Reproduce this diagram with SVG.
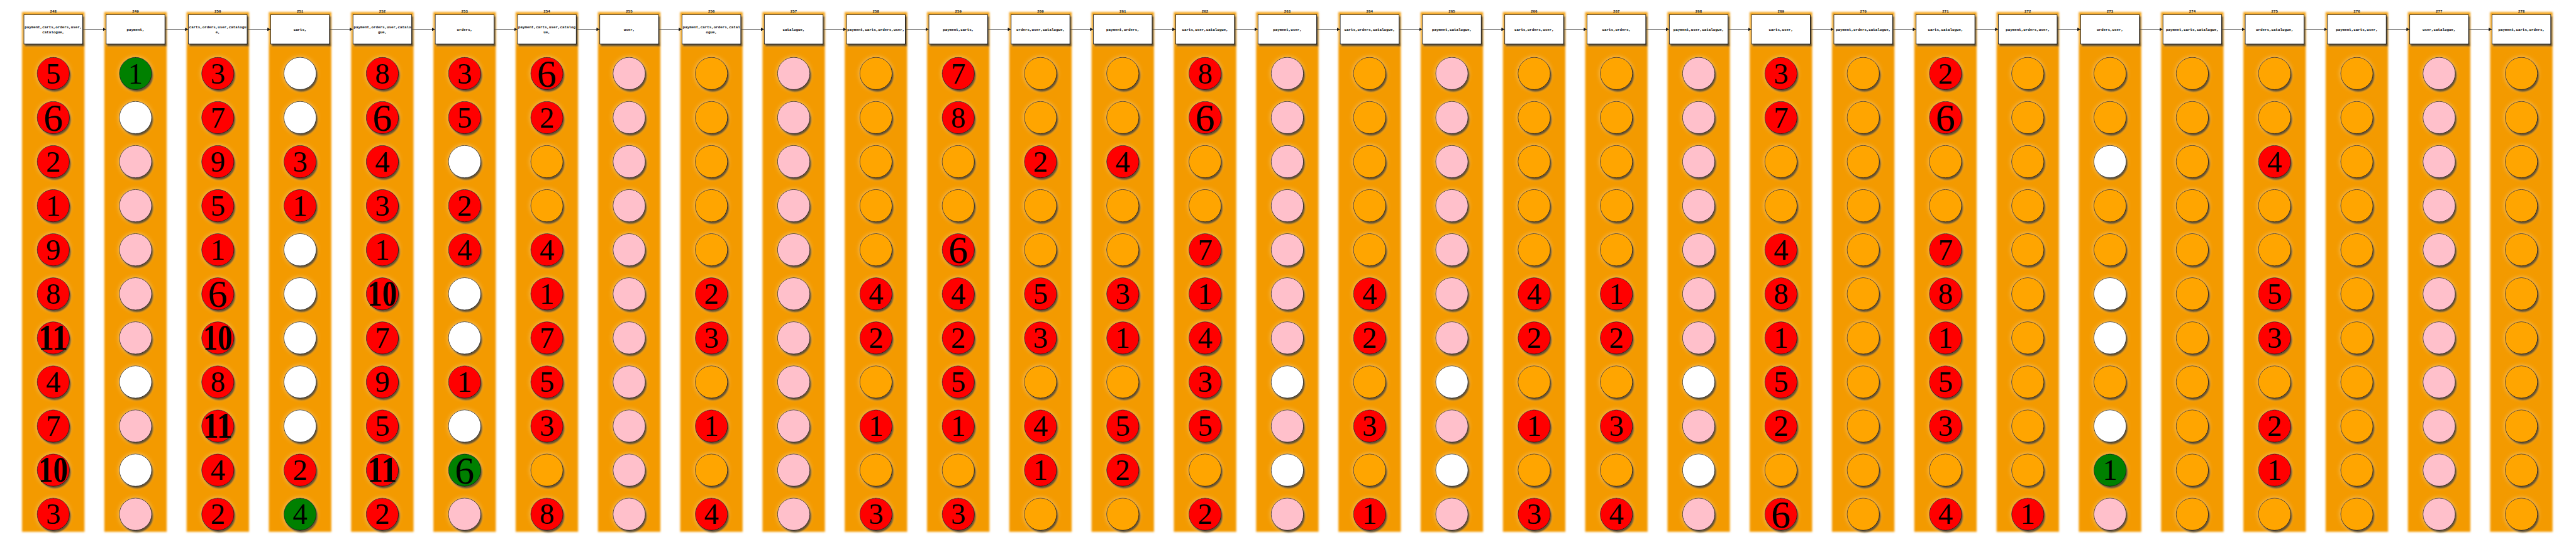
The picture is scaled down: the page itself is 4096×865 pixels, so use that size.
<svg xmlns="http://www.w3.org/2000/svg" xmlns:xlink="http://www.w3.org/1999/xlink" width="4096" height="865" viewBox="0 0 4096 865">
<style>
.band{fill:#f39a06;filter:url(#soft)}
.box{fill:#fff;stroke:#000;stroke-width:1.5;filter:url(#sh)}
circle{stroke:#000;stroke-width:1.2;filter:url(#sh)}
.R{fill:#ff0000}.G{fill:#008000}.W{fill:#ffffff}.P{fill:#ffc0cb}.O{fill:#ffa500}
.d{font-family:"Liberation Serif","Times New Roman",serif;font-size:80px;text-anchor:middle;fill:#000}
.s6{font-size:106px}
.dd{font-size:96px;font-weight:bold}
.lbl{font-family:"Liberation Mono","DejaVu Sans Mono",monospace;font-weight:bold;font-size:10px;text-anchor:middle;fill:#000}
#connectors path{stroke:#000;stroke-width:1.3;fill:none}
#connectors .arr{marker-end:url(#ah)}
</style>
<defs>
<filter id="soft" x="-10%" y="-2%" width="120%" height="104%"><feGaussianBlur stdDeviation="2.5"/></filter>
<filter id="sh" x="-40%" y="-40%" width="180%" height="180%">
<feGaussianBlur in="SourceAlpha" stdDeviation="6" result="b1"/>
<feFlood flood-color="#fff" flood-opacity="0.45"/><feComposite in2="b1" operator="in" result="glow"/>
<feGaussianBlur in="SourceAlpha" stdDeviation="2" result="b2"/>
<feOffset in="b2" dx="4" dy="5" result="o"/>
<feFlood flood-color="#000" flood-opacity="0.75"/><feComposite in2="o" operator="in" result="shadow"/>
<feMerge><feMergeNode in="glow"/><feMergeNode in="shadow"/><feMergeNode in="SourceGraphic"/></feMerge>
</filter>
<marker id="ah" markerUnits="userSpaceOnUse" markerWidth="9" markerHeight="9" viewBox="0 0 10 10" refX="10" refY="5" orient="auto"><path d="M0,0L10,5L0,10z" fill="#000"/></marker>
<path id="vl" d="M0 120V156M0 244V276M0 364V396M0 484V516M0 604V636M0 724V756M0 844V876M0 964V996M0 1084V1116M0 1204V1236M0 1324V1356"/>
<rect id="bd" class="band" x="-85" y="33" width="170" height="1415"/>
</defs>
<g transform="scale(0.584)">
<g id="bands">
<use xlink:href="#bd" x="145"/><use xlink:href="#bd" x="369"/><use xlink:href="#bd" x="593"/><use xlink:href="#bd" x="817"/><use xlink:href="#bd" x="1041"/><use xlink:href="#bd" x="1265"/><use xlink:href="#bd" x="1489"/><use xlink:href="#bd" x="1713"/><use xlink:href="#bd" x="1937"/><use xlink:href="#bd" x="2161"/><use xlink:href="#bd" x="2385"/><use xlink:href="#bd" x="2609"/><use xlink:href="#bd" x="2833"/><use xlink:href="#bd" x="3057"/><use xlink:href="#bd" x="3281"/><use xlink:href="#bd" x="3505"/><use xlink:href="#bd" x="3729"/><use xlink:href="#bd" x="3953"/><use xlink:href="#bd" x="4177"/><use xlink:href="#bd" x="4401"/><use xlink:href="#bd" x="4625"/><use xlink:href="#bd" x="4849"/><use xlink:href="#bd" x="5073"/><use xlink:href="#bd" x="5297"/><use xlink:href="#bd" x="5521"/><use xlink:href="#bd" x="5745"/><use xlink:href="#bd" x="5969"/><use xlink:href="#bd" x="6193"/><use xlink:href="#bd" x="6417"/><use xlink:href="#bd" x="6641"/><use xlink:href="#bd" x="6865"/>
</g>
<g id="connectors">
<use xlink:href="#vl" x="145"/><use xlink:href="#vl" x="369"/><use xlink:href="#vl" x="593"/><use xlink:href="#vl" x="817"/><use xlink:href="#vl" x="1041"/><use xlink:href="#vl" x="1265"/><use xlink:href="#vl" x="1489"/><use xlink:href="#vl" x="1713"/><use xlink:href="#vl" x="1937"/><use xlink:href="#vl" x="2161"/><use xlink:href="#vl" x="2385"/><use xlink:href="#vl" x="2609"/><use xlink:href="#vl" x="2833"/><use xlink:href="#vl" x="3057"/><use xlink:href="#vl" x="3281"/><use xlink:href="#vl" x="3505"/><use xlink:href="#vl" x="3729"/><use xlink:href="#vl" x="3953"/><use xlink:href="#vl" x="4177"/><use xlink:href="#vl" x="4401"/><use xlink:href="#vl" x="4625"/><use xlink:href="#vl" x="4849"/><use xlink:href="#vl" x="5073"/><use xlink:href="#vl" x="5297"/><use xlink:href="#vl" x="5521"/><use xlink:href="#vl" x="5745"/><use xlink:href="#vl" x="5969"/><use xlink:href="#vl" x="6193"/><use xlink:href="#vl" x="6417"/><use xlink:href="#vl" x="6641"/><use xlink:href="#vl" x="6865"/>
<path class="arr" d="M225 80H289"/><path class="arr" d="M449 80H513"/><path class="arr" d="M673 80H737"/><path class="arr" d="M897 80H961"/><path class="arr" d="M1121 80H1185"/><path class="arr" d="M1345 80H1409"/><path class="arr" d="M1569 80H1633"/><path class="arr" d="M1793 80H1857"/><path class="arr" d="M2017 80H2081"/><path class="arr" d="M2241 80H2305"/><path class="arr" d="M2465 80H2529"/><path class="arr" d="M2689 80H2753"/><path class="arr" d="M2913 80H2977"/><path class="arr" d="M3137 80H3201"/><path class="arr" d="M3361 80H3425"/><path class="arr" d="M3585 80H3649"/><path class="arr" d="M3809 80H3873"/><path class="arr" d="M4033 80H4097"/><path class="arr" d="M4257 80H4321"/><path class="arr" d="M4481 80H4545"/><path class="arr" d="M4705 80H4769"/><path class="arr" d="M4929 80H4993"/><path class="arr" d="M5153 80H5217"/><path class="arr" d="M5377 80H5441"/><path class="arr" d="M5601 80H5665"/><path class="arr" d="M5825 80H5889"/><path class="arr" d="M6049 80H6113"/><path class="arr" d="M6273 80H6337"/><path class="arr" d="M6497 80H6561"/><path class="arr" d="M6721 80H6785"/>
</g>

<g id="col248" transform="translate(145 0)">
<g id="n248"><text class="lbl" y="34">248</text><rect class="box" x="-80" y="40" width="160" height="80"/><text class="lbl" y="77">payment,carts,orders,user,</text><text class="lbl" y="90">catalogue,</text></g>
<g id="n248-1"><circle class="R" cy="200" r="44"/><text class="d" y="227">5</text></g>
<g id="n248-2"><circle class="R" cy="320" r="44"/><text class="d s6" y="356">6</text></g>
<g id="n248-3"><circle class="R" cy="440" r="44"/><text class="d" y="467">2</text></g>
<g id="n248-4"><circle class="R" cy="560" r="44"/><text class="d" y="587">1</text></g>
<g id="n248-5"><circle class="R" cy="680" r="44"/><text class="d" y="707">9</text></g>
<g id="n248-6"><circle class="R" cy="800" r="44"/><text class="d" y="827">8</text></g>
<g id="n248-7"><circle class="R" cy="920" r="44"/><text class="d dd" y="952" textLength="80" lengthAdjust="spacingAndGlyphs">11</text></g>
<g id="n248-8"><circle class="R" cy="1040" r="44"/><text class="d" y="1067">4</text></g>
<g id="n248-9"><circle class="R" cy="1160" r="44"/><text class="d" y="1187">7</text></g>
<g id="n248-10"><circle class="R" cy="1280" r="44"/><text class="d dd" y="1312" textLength="80" lengthAdjust="spacingAndGlyphs">10</text></g>
<g id="n248-11"><circle class="R" cy="1400" r="44"/><text class="d" y="1427">3</text></g>
</g>

<g id="col249" transform="translate(369 0)">
<g id="n249"><text class="lbl" y="34">249</text><rect class="box" x="-80" y="40" width="160" height="80"/><text class="lbl" y="84">payment,</text></g>
<g id="n249-1"><circle class="G" cy="200" r="44"/><text class="d" y="227">1</text></g>
<g id="n249-2"><circle class="W" cy="320" r="44"/></g>
<g id="n249-3"><circle class="P" cy="440" r="44"/></g>
<g id="n249-4"><circle class="P" cy="560" r="44"/></g>
<g id="n249-5"><circle class="P" cy="680" r="44"/></g>
<g id="n249-6"><circle class="P" cy="800" r="44"/></g>
<g id="n249-7"><circle class="P" cy="920" r="44"/></g>
<g id="n249-8"><circle class="W" cy="1040" r="44"/></g>
<g id="n249-9"><circle class="P" cy="1160" r="44"/></g>
<g id="n249-10"><circle class="W" cy="1280" r="44"/></g>
<g id="n249-11"><circle class="P" cy="1400" r="44"/></g>
</g>

<g id="col250" transform="translate(593 0)">
<g id="n250"><text class="lbl" y="34">250</text><rect class="box" x="-80" y="40" width="160" height="80"/><text class="lbl" y="77">carts,orders,user,catalogu</text><text class="lbl" y="90">e,</text></g>
<g id="n250-1"><circle class="R" cy="200" r="44"/><text class="d" y="227">3</text></g>
<g id="n250-2"><circle class="R" cy="320" r="44"/><text class="d" y="347">7</text></g>
<g id="n250-3"><circle class="R" cy="440" r="44"/><text class="d" y="467">9</text></g>
<g id="n250-4"><circle class="R" cy="560" r="44"/><text class="d" y="587">5</text></g>
<g id="n250-5"><circle class="R" cy="680" r="44"/><text class="d" y="707">1</text></g>
<g id="n250-6"><circle class="R" cy="800" r="44"/><text class="d s6" y="836">6</text></g>
<g id="n250-7"><circle class="R" cy="920" r="44"/><text class="d dd" y="952" textLength="80" lengthAdjust="spacingAndGlyphs">10</text></g>
<g id="n250-8"><circle class="R" cy="1040" r="44"/><text class="d" y="1067">8</text></g>
<g id="n250-9"><circle class="R" cy="1160" r="44"/><text class="d dd" y="1192" textLength="80" lengthAdjust="spacingAndGlyphs">11</text></g>
<g id="n250-10"><circle class="R" cy="1280" r="44"/><text class="d" y="1307">4</text></g>
<g id="n250-11"><circle class="R" cy="1400" r="44"/><text class="d" y="1427">2</text></g>
</g>

<g id="col251" transform="translate(817 0)">
<g id="n251"><text class="lbl" y="34">251</text><rect class="box" x="-80" y="40" width="160" height="80"/><text class="lbl" y="84">carts,</text></g>
<g id="n251-1"><circle class="W" cy="200" r="44"/></g>
<g id="n251-2"><circle class="W" cy="320" r="44"/></g>
<g id="n251-3"><circle class="R" cy="440" r="44"/><text class="d" y="467">3</text></g>
<g id="n251-4"><circle class="R" cy="560" r="44"/><text class="d" y="587">1</text></g>
<g id="n251-5"><circle class="W" cy="680" r="44"/></g>
<g id="n251-6"><circle class="W" cy="800" r="44"/></g>
<g id="n251-7"><circle class="W" cy="920" r="44"/></g>
<g id="n251-8"><circle class="W" cy="1040" r="44"/></g>
<g id="n251-9"><circle class="W" cy="1160" r="44"/></g>
<g id="n251-10"><circle class="R" cy="1280" r="44"/><text class="d" y="1307">2</text></g>
<g id="n251-11"><circle class="G" cy="1400" r="44"/><text class="d" y="1427">4</text></g>
</g>

<g id="col252" transform="translate(1041 0)">
<g id="n252"><text class="lbl" y="34">252</text><rect class="box" x="-80" y="40" width="160" height="80"/><text class="lbl" y="77">payment,orders,user,catalo</text><text class="lbl" y="90">gue,</text></g>
<g id="n252-1"><circle class="R" cy="200" r="44"/><text class="d" y="227">8</text></g>
<g id="n252-2"><circle class="R" cy="320" r="44"/><text class="d s6" y="356">6</text></g>
<g id="n252-3"><circle class="R" cy="440" r="44"/><text class="d" y="467">4</text></g>
<g id="n252-4"><circle class="R" cy="560" r="44"/><text class="d" y="587">3</text></g>
<g id="n252-5"><circle class="R" cy="680" r="44"/><text class="d" y="707">1</text></g>
<g id="n252-6"><circle class="R" cy="800" r="44"/><text class="d dd" y="832" textLength="80" lengthAdjust="spacingAndGlyphs">10</text></g>
<g id="n252-7"><circle class="R" cy="920" r="44"/><text class="d" y="947">7</text></g>
<g id="n252-8"><circle class="R" cy="1040" r="44"/><text class="d" y="1067">9</text></g>
<g id="n252-9"><circle class="R" cy="1160" r="44"/><text class="d" y="1187">5</text></g>
<g id="n252-10"><circle class="R" cy="1280" r="44"/><text class="d dd" y="1312" textLength="80" lengthAdjust="spacingAndGlyphs">11</text></g>
<g id="n252-11"><circle class="R" cy="1400" r="44"/><text class="d" y="1427">2</text></g>
</g>

<g id="col253" transform="translate(1265 0)">
<g id="n253"><text class="lbl" y="34">253</text><rect class="box" x="-80" y="40" width="160" height="80"/><text class="lbl" y="84">orders,</text></g>
<g id="n253-1"><circle class="R" cy="200" r="44"/><text class="d" y="227">3</text></g>
<g id="n253-2"><circle class="R" cy="320" r="44"/><text class="d" y="347">5</text></g>
<g id="n253-3"><circle class="W" cy="440" r="44"/></g>
<g id="n253-4"><circle class="R" cy="560" r="44"/><text class="d" y="587">2</text></g>
<g id="n253-5"><circle class="R" cy="680" r="44"/><text class="d" y="707">4</text></g>
<g id="n253-6"><circle class="W" cy="800" r="44"/></g>
<g id="n253-7"><circle class="W" cy="920" r="44"/></g>
<g id="n253-8"><circle class="R" cy="1040" r="44"/><text class="d" y="1067">1</text></g>
<g id="n253-9"><circle class="W" cy="1160" r="44"/></g>
<g id="n253-10"><circle class="G" cy="1280" r="44"/><text class="d s6" y="1316">6</text></g>
<g id="n253-11"><circle class="P" cy="1400" r="44"/></g>
</g>

<g id="col254" transform="translate(1489 0)">
<g id="n254"><text class="lbl" y="34">254</text><rect class="box" x="-80" y="40" width="160" height="80"/><text class="lbl" y="77">payment,carts,user,catalog</text><text class="lbl" y="90">ue,</text></g>
<g id="n254-1"><circle class="R" cy="200" r="44"/><text class="d s6" y="236">6</text></g>
<g id="n254-2"><circle class="R" cy="320" r="44"/><text class="d" y="347">2</text></g>
<g id="n254-3"><circle class="O" cy="440" r="44"/></g>
<g id="n254-4"><circle class="O" cy="560" r="44"/></g>
<g id="n254-5"><circle class="R" cy="680" r="44"/><text class="d" y="707">4</text></g>
<g id="n254-6"><circle class="R" cy="800" r="44"/><text class="d" y="827">1</text></g>
<g id="n254-7"><circle class="R" cy="920" r="44"/><text class="d" y="947">7</text></g>
<g id="n254-8"><circle class="R" cy="1040" r="44"/><text class="d" y="1067">5</text></g>
<g id="n254-9"><circle class="R" cy="1160" r="44"/><text class="d" y="1187">3</text></g>
<g id="n254-10"><circle class="O" cy="1280" r="44"/></g>
<g id="n254-11"><circle class="R" cy="1400" r="44"/><text class="d" y="1427">8</text></g>
</g>

<g id="col255" transform="translate(1713 0)">
<g id="n255"><text class="lbl" y="34">255</text><rect class="box" x="-80" y="40" width="160" height="80"/><text class="lbl" y="84">user,</text></g>
<g id="n255-1"><circle class="P" cy="200" r="44"/></g>
<g id="n255-2"><circle class="P" cy="320" r="44"/></g>
<g id="n255-3"><circle class="P" cy="440" r="44"/></g>
<g id="n255-4"><circle class="P" cy="560" r="44"/></g>
<g id="n255-5"><circle class="P" cy="680" r="44"/></g>
<g id="n255-6"><circle class="P" cy="800" r="44"/></g>
<g id="n255-7"><circle class="P" cy="920" r="44"/></g>
<g id="n255-8"><circle class="P" cy="1040" r="44"/></g>
<g id="n255-9"><circle class="P" cy="1160" r="44"/></g>
<g id="n255-10"><circle class="P" cy="1280" r="44"/></g>
<g id="n255-11"><circle class="P" cy="1400" r="44"/></g>
</g>

<g id="col256" transform="translate(1937 0)">
<g id="n256"><text class="lbl" y="34">256</text><rect class="box" x="-80" y="40" width="160" height="80"/><text class="lbl" y="77">payment,carts,orders,catal</text><text class="lbl" y="90">ogue,</text></g>
<g id="n256-1"><circle class="O" cy="200" r="44"/></g>
<g id="n256-2"><circle class="O" cy="320" r="44"/></g>
<g id="n256-3"><circle class="O" cy="440" r="44"/></g>
<g id="n256-4"><circle class="O" cy="560" r="44"/></g>
<g id="n256-5"><circle class="O" cy="680" r="44"/></g>
<g id="n256-6"><circle class="R" cy="800" r="44"/><text class="d" y="827">2</text></g>
<g id="n256-7"><circle class="R" cy="920" r="44"/><text class="d" y="947">3</text></g>
<g id="n256-8"><circle class="O" cy="1040" r="44"/></g>
<g id="n256-9"><circle class="R" cy="1160" r="44"/><text class="d" y="1187">1</text></g>
<g id="n256-10"><circle class="O" cy="1280" r="44"/></g>
<g id="n256-11"><circle class="R" cy="1400" r="44"/><text class="d" y="1427">4</text></g>
</g>

<g id="col257" transform="translate(2161 0)">
<g id="n257"><text class="lbl" y="34">257</text><rect class="box" x="-80" y="40" width="160" height="80"/><text class="lbl" y="84">catalogue,</text></g>
<g id="n257-1"><circle class="P" cy="200" r="44"/></g>
<g id="n257-2"><circle class="P" cy="320" r="44"/></g>
<g id="n257-3"><circle class="P" cy="440" r="44"/></g>
<g id="n257-4"><circle class="P" cy="560" r="44"/></g>
<g id="n257-5"><circle class="P" cy="680" r="44"/></g>
<g id="n257-6"><circle class="P" cy="800" r="44"/></g>
<g id="n257-7"><circle class="P" cy="920" r="44"/></g>
<g id="n257-8"><circle class="P" cy="1040" r="44"/></g>
<g id="n257-9"><circle class="P" cy="1160" r="44"/></g>
<g id="n257-10"><circle class="P" cy="1280" r="44"/></g>
<g id="n257-11"><circle class="P" cy="1400" r="44"/></g>
</g>

<g id="col258" transform="translate(2385 0)">
<g id="n258"><text class="lbl" y="34">258</text><rect class="box" x="-80" y="40" width="160" height="80"/><text class="lbl" y="84">payment,carts,orders,user,</text></g>
<g id="n258-1"><circle class="O" cy="200" r="44"/></g>
<g id="n258-2"><circle class="O" cy="320" r="44"/></g>
<g id="n258-3"><circle class="O" cy="440" r="44"/></g>
<g id="n258-4"><circle class="O" cy="560" r="44"/></g>
<g id="n258-5"><circle class="O" cy="680" r="44"/></g>
<g id="n258-6"><circle class="R" cy="800" r="44"/><text class="d" y="827">4</text></g>
<g id="n258-7"><circle class="R" cy="920" r="44"/><text class="d" y="947">2</text></g>
<g id="n258-8"><circle class="O" cy="1040" r="44"/></g>
<g id="n258-9"><circle class="R" cy="1160" r="44"/><text class="d" y="1187">1</text></g>
<g id="n258-10"><circle class="O" cy="1280" r="44"/></g>
<g id="n258-11"><circle class="R" cy="1400" r="44"/><text class="d" y="1427">3</text></g>
</g>

<g id="col259" transform="translate(2609 0)">
<g id="n259"><text class="lbl" y="34">259</text><rect class="box" x="-80" y="40" width="160" height="80"/><text class="lbl" y="84">payment,carts,</text></g>
<g id="n259-1"><circle class="R" cy="200" r="44"/><text class="d" y="227">7</text></g>
<g id="n259-2"><circle class="R" cy="320" r="44"/><text class="d" y="347">8</text></g>
<g id="n259-3"><circle class="O" cy="440" r="44"/></g>
<g id="n259-4"><circle class="O" cy="560" r="44"/></g>
<g id="n259-5"><circle class="R" cy="680" r="44"/><text class="d s6" y="716">6</text></g>
<g id="n259-6"><circle class="R" cy="800" r="44"/><text class="d" y="827">4</text></g>
<g id="n259-7"><circle class="R" cy="920" r="44"/><text class="d" y="947">2</text></g>
<g id="n259-8"><circle class="R" cy="1040" r="44"/><text class="d" y="1067">5</text></g>
<g id="n259-9"><circle class="R" cy="1160" r="44"/><text class="d" y="1187">1</text></g>
<g id="n259-10"><circle class="O" cy="1280" r="44"/></g>
<g id="n259-11"><circle class="R" cy="1400" r="44"/><text class="d" y="1427">3</text></g>
</g>

<g id="col260" transform="translate(2833 0)">
<g id="n260"><text class="lbl" y="34">260</text><rect class="box" x="-80" y="40" width="160" height="80"/><text class="lbl" y="84">orders,user,catalogue,</text></g>
<g id="n260-1"><circle class="O" cy="200" r="44"/></g>
<g id="n260-2"><circle class="O" cy="320" r="44"/></g>
<g id="n260-3"><circle class="R" cy="440" r="44"/><text class="d" y="467">2</text></g>
<g id="n260-4"><circle class="O" cy="560" r="44"/></g>
<g id="n260-5"><circle class="O" cy="680" r="44"/></g>
<g id="n260-6"><circle class="R" cy="800" r="44"/><text class="d" y="827">5</text></g>
<g id="n260-7"><circle class="R" cy="920" r="44"/><text class="d" y="947">3</text></g>
<g id="n260-8"><circle class="O" cy="1040" r="44"/></g>
<g id="n260-9"><circle class="R" cy="1160" r="44"/><text class="d" y="1187">4</text></g>
<g id="n260-10"><circle class="R" cy="1280" r="44"/><text class="d" y="1307">1</text></g>
<g id="n260-11"><circle class="O" cy="1400" r="44"/></g>
</g>

<g id="col261" transform="translate(3057 0)">
<g id="n261"><text class="lbl" y="34">261</text><rect class="box" x="-80" y="40" width="160" height="80"/><text class="lbl" y="84">payment,orders,</text></g>
<g id="n261-1"><circle class="O" cy="200" r="44"/></g>
<g id="n261-2"><circle class="O" cy="320" r="44"/></g>
<g id="n261-3"><circle class="R" cy="440" r="44"/><text class="d" y="467">4</text></g>
<g id="n261-4"><circle class="O" cy="560" r="44"/></g>
<g id="n261-5"><circle class="O" cy="680" r="44"/></g>
<g id="n261-6"><circle class="R" cy="800" r="44"/><text class="d" y="827">3</text></g>
<g id="n261-7"><circle class="R" cy="920" r="44"/><text class="d" y="947">1</text></g>
<g id="n261-8"><circle class="O" cy="1040" r="44"/></g>
<g id="n261-9"><circle class="R" cy="1160" r="44"/><text class="d" y="1187">5</text></g>
<g id="n261-10"><circle class="R" cy="1280" r="44"/><text class="d" y="1307">2</text></g>
<g id="n261-11"><circle class="O" cy="1400" r="44"/></g>
</g>

<g id="col262" transform="translate(3281 0)">
<g id="n262"><text class="lbl" y="34">262</text><rect class="box" x="-80" y="40" width="160" height="80"/><text class="lbl" y="84">carts,user,catalogue,</text></g>
<g id="n262-1"><circle class="R" cy="200" r="44"/><text class="d" y="227">8</text></g>
<g id="n262-2"><circle class="R" cy="320" r="44"/><text class="d s6" y="356">6</text></g>
<g id="n262-3"><circle class="O" cy="440" r="44"/></g>
<g id="n262-4"><circle class="O" cy="560" r="44"/></g>
<g id="n262-5"><circle class="R" cy="680" r="44"/><text class="d" y="707">7</text></g>
<g id="n262-6"><circle class="R" cy="800" r="44"/><text class="d" y="827">1</text></g>
<g id="n262-7"><circle class="R" cy="920" r="44"/><text class="d" y="947">4</text></g>
<g id="n262-8"><circle class="R" cy="1040" r="44"/><text class="d" y="1067">3</text></g>
<g id="n262-9"><circle class="R" cy="1160" r="44"/><text class="d" y="1187">5</text></g>
<g id="n262-10"><circle class="O" cy="1280" r="44"/></g>
<g id="n262-11"><circle class="R" cy="1400" r="44"/><text class="d" y="1427">2</text></g>
</g>

<g id="col263" transform="translate(3505 0)">
<g id="n263"><text class="lbl" y="34">263</text><rect class="box" x="-80" y="40" width="160" height="80"/><text class="lbl" y="84">payment,user,</text></g>
<g id="n263-1"><circle class="P" cy="200" r="44"/></g>
<g id="n263-2"><circle class="P" cy="320" r="44"/></g>
<g id="n263-3"><circle class="P" cy="440" r="44"/></g>
<g id="n263-4"><circle class="P" cy="560" r="44"/></g>
<g id="n263-5"><circle class="P" cy="680" r="44"/></g>
<g id="n263-6"><circle class="P" cy="800" r="44"/></g>
<g id="n263-7"><circle class="P" cy="920" r="44"/></g>
<g id="n263-8"><circle class="W" cy="1040" r="44"/></g>
<g id="n263-9"><circle class="P" cy="1160" r="44"/></g>
<g id="n263-10"><circle class="W" cy="1280" r="44"/></g>
<g id="n263-11"><circle class="P" cy="1400" r="44"/></g>
</g>

<g id="col264" transform="translate(3729 0)">
<g id="n264"><text class="lbl" y="34">264</text><rect class="box" x="-80" y="40" width="160" height="80"/><text class="lbl" y="84">carts,orders,catalogue,</text></g>
<g id="n264-1"><circle class="O" cy="200" r="44"/></g>
<g id="n264-2"><circle class="O" cy="320" r="44"/></g>
<g id="n264-3"><circle class="O" cy="440" r="44"/></g>
<g id="n264-4"><circle class="O" cy="560" r="44"/></g>
<g id="n264-5"><circle class="O" cy="680" r="44"/></g>
<g id="n264-6"><circle class="R" cy="800" r="44"/><text class="d" y="827">4</text></g>
<g id="n264-7"><circle class="R" cy="920" r="44"/><text class="d" y="947">2</text></g>
<g id="n264-8"><circle class="O" cy="1040" r="44"/></g>
<g id="n264-9"><circle class="R" cy="1160" r="44"/><text class="d" y="1187">3</text></g>
<g id="n264-10"><circle class="O" cy="1280" r="44"/></g>
<g id="n264-11"><circle class="R" cy="1400" r="44"/><text class="d" y="1427">1</text></g>
</g>

<g id="col265" transform="translate(3953 0)">
<g id="n265"><text class="lbl" y="34">265</text><rect class="box" x="-80" y="40" width="160" height="80"/><text class="lbl" y="84">payment,catalogue,</text></g>
<g id="n265-1"><circle class="P" cy="200" r="44"/></g>
<g id="n265-2"><circle class="P" cy="320" r="44"/></g>
<g id="n265-3"><circle class="P" cy="440" r="44"/></g>
<g id="n265-4"><circle class="P" cy="560" r="44"/></g>
<g id="n265-5"><circle class="P" cy="680" r="44"/></g>
<g id="n265-6"><circle class="P" cy="800" r="44"/></g>
<g id="n265-7"><circle class="P" cy="920" r="44"/></g>
<g id="n265-8"><circle class="W" cy="1040" r="44"/></g>
<g id="n265-9"><circle class="P" cy="1160" r="44"/></g>
<g id="n265-10"><circle class="W" cy="1280" r="44"/></g>
<g id="n265-11"><circle class="P" cy="1400" r="44"/></g>
</g>

<g id="col266" transform="translate(4177 0)">
<g id="n266"><text class="lbl" y="34">266</text><rect class="box" x="-80" y="40" width="160" height="80"/><text class="lbl" y="84">carts,orders,user,</text></g>
<g id="n266-1"><circle class="O" cy="200" r="44"/></g>
<g id="n266-2"><circle class="O" cy="320" r="44"/></g>
<g id="n266-3"><circle class="O" cy="440" r="44"/></g>
<g id="n266-4"><circle class="O" cy="560" r="44"/></g>
<g id="n266-5"><circle class="O" cy="680" r="44"/></g>
<g id="n266-6"><circle class="R" cy="800" r="44"/><text class="d" y="827">4</text></g>
<g id="n266-7"><circle class="R" cy="920" r="44"/><text class="d" y="947">2</text></g>
<g id="n266-8"><circle class="O" cy="1040" r="44"/></g>
<g id="n266-9"><circle class="R" cy="1160" r="44"/><text class="d" y="1187">1</text></g>
<g id="n266-10"><circle class="O" cy="1280" r="44"/></g>
<g id="n266-11"><circle class="R" cy="1400" r="44"/><text class="d" y="1427">3</text></g>
</g>

<g id="col267" transform="translate(4401 0)">
<g id="n267"><text class="lbl" y="34">267</text><rect class="box" x="-80" y="40" width="160" height="80"/><text class="lbl" y="84">carts,orders,</text></g>
<g id="n267-1"><circle class="O" cy="200" r="44"/></g>
<g id="n267-2"><circle class="O" cy="320" r="44"/></g>
<g id="n267-3"><circle class="O" cy="440" r="44"/></g>
<g id="n267-4"><circle class="O" cy="560" r="44"/></g>
<g id="n267-5"><circle class="O" cy="680" r="44"/></g>
<g id="n267-6"><circle class="R" cy="800" r="44"/><text class="d" y="827">1</text></g>
<g id="n267-7"><circle class="R" cy="920" r="44"/><text class="d" y="947">2</text></g>
<g id="n267-8"><circle class="O" cy="1040" r="44"/></g>
<g id="n267-9"><circle class="R" cy="1160" r="44"/><text class="d" y="1187">3</text></g>
<g id="n267-10"><circle class="O" cy="1280" r="44"/></g>
<g id="n267-11"><circle class="R" cy="1400" r="44"/><text class="d" y="1427">4</text></g>
</g>

<g id="col268" transform="translate(4625 0)">
<g id="n268"><text class="lbl" y="34">268</text><rect class="box" x="-80" y="40" width="160" height="80"/><text class="lbl" y="84">payment,user,catalogue,</text></g>
<g id="n268-1"><circle class="P" cy="200" r="44"/></g>
<g id="n268-2"><circle class="P" cy="320" r="44"/></g>
<g id="n268-3"><circle class="P" cy="440" r="44"/></g>
<g id="n268-4"><circle class="P" cy="560" r="44"/></g>
<g id="n268-5"><circle class="P" cy="680" r="44"/></g>
<g id="n268-6"><circle class="P" cy="800" r="44"/></g>
<g id="n268-7"><circle class="P" cy="920" r="44"/></g>
<g id="n268-8"><circle class="W" cy="1040" r="44"/></g>
<g id="n268-9"><circle class="P" cy="1160" r="44"/></g>
<g id="n268-10"><circle class="W" cy="1280" r="44"/></g>
<g id="n268-11"><circle class="P" cy="1400" r="44"/></g>
</g>

<g id="col269" transform="translate(4849 0)">
<g id="n269"><text class="lbl" y="34">269</text><rect class="box" x="-80" y="40" width="160" height="80"/><text class="lbl" y="84">carts,user,</text></g>
<g id="n269-1"><circle class="R" cy="200" r="44"/><text class="d" y="227">3</text></g>
<g id="n269-2"><circle class="R" cy="320" r="44"/><text class="d" y="347">7</text></g>
<g id="n269-3"><circle class="O" cy="440" r="44"/></g>
<g id="n269-4"><circle class="O" cy="560" r="44"/></g>
<g id="n269-5"><circle class="R" cy="680" r="44"/><text class="d" y="707">4</text></g>
<g id="n269-6"><circle class="R" cy="800" r="44"/><text class="d" y="827">8</text></g>
<g id="n269-7"><circle class="R" cy="920" r="44"/><text class="d" y="947">1</text></g>
<g id="n269-8"><circle class="R" cy="1040" r="44"/><text class="d" y="1067">5</text></g>
<g id="n269-9"><circle class="R" cy="1160" r="44"/><text class="d" y="1187">2</text></g>
<g id="n269-10"><circle class="O" cy="1280" r="44"/></g>
<g id="n269-11"><circle class="R" cy="1400" r="44"/><text class="d s6" y="1436">6</text></g>
</g>

<g id="col270" transform="translate(5073 0)">
<g id="n270"><text class="lbl" y="34">270</text><rect class="box" x="-80" y="40" width="160" height="80"/><text class="lbl" y="84">payment,orders,catalogue,</text></g>
<g id="n270-1"><circle class="O" cy="200" r="44"/></g>
<g id="n270-2"><circle class="O" cy="320" r="44"/></g>
<g id="n270-3"><circle class="O" cy="440" r="44"/></g>
<g id="n270-4"><circle class="O" cy="560" r="44"/></g>
<g id="n270-5"><circle class="O" cy="680" r="44"/></g>
<g id="n270-6"><circle class="O" cy="800" r="44"/></g>
<g id="n270-7"><circle class="O" cy="920" r="44"/></g>
<g id="n270-8"><circle class="O" cy="1040" r="44"/></g>
<g id="n270-9"><circle class="O" cy="1160" r="44"/></g>
<g id="n270-10"><circle class="O" cy="1280" r="44"/></g>
<g id="n270-11"><circle class="O" cy="1400" r="44"/></g>
</g>

<g id="col271" transform="translate(5297 0)">
<g id="n271"><text class="lbl" y="34">271</text><rect class="box" x="-80" y="40" width="160" height="80"/><text class="lbl" y="84">carts,catalogue,</text></g>
<g id="n271-1"><circle class="R" cy="200" r="44"/><text class="d" y="227">2</text></g>
<g id="n271-2"><circle class="R" cy="320" r="44"/><text class="d s6" y="356">6</text></g>
<g id="n271-3"><circle class="O" cy="440" r="44"/></g>
<g id="n271-4"><circle class="O" cy="560" r="44"/></g>
<g id="n271-5"><circle class="R" cy="680" r="44"/><text class="d" y="707">7</text></g>
<g id="n271-6"><circle class="R" cy="800" r="44"/><text class="d" y="827">8</text></g>
<g id="n271-7"><circle class="R" cy="920" r="44"/><text class="d" y="947">1</text></g>
<g id="n271-8"><circle class="R" cy="1040" r="44"/><text class="d" y="1067">5</text></g>
<g id="n271-9"><circle class="R" cy="1160" r="44"/><text class="d" y="1187">3</text></g>
<g id="n271-10"><circle class="O" cy="1280" r="44"/></g>
<g id="n271-11"><circle class="R" cy="1400" r="44"/><text class="d" y="1427">4</text></g>
</g>

<g id="col272" transform="translate(5521 0)">
<g id="n272"><text class="lbl" y="34">272</text><rect class="box" x="-80" y="40" width="160" height="80"/><text class="lbl" y="84">payment,orders,user,</text></g>
<g id="n272-1"><circle class="O" cy="200" r="44"/></g>
<g id="n272-2"><circle class="O" cy="320" r="44"/></g>
<g id="n272-3"><circle class="O" cy="440" r="44"/></g>
<g id="n272-4"><circle class="O" cy="560" r="44"/></g>
<g id="n272-5"><circle class="O" cy="680" r="44"/></g>
<g id="n272-6"><circle class="O" cy="800" r="44"/></g>
<g id="n272-7"><circle class="O" cy="920" r="44"/></g>
<g id="n272-8"><circle class="O" cy="1040" r="44"/></g>
<g id="n272-9"><circle class="O" cy="1160" r="44"/></g>
<g id="n272-10"><circle class="O" cy="1280" r="44"/></g>
<g id="n272-11"><circle class="R" cy="1400" r="44"/><text class="d" y="1427">1</text></g>
</g>

<g id="col273" transform="translate(5745 0)">
<g id="n273"><text class="lbl" y="34">273</text><rect class="box" x="-80" y="40" width="160" height="80"/><text class="lbl" y="84">orders,user,</text></g>
<g id="n273-1"><circle class="O" cy="200" r="44"/></g>
<g id="n273-2"><circle class="O" cy="320" r="44"/></g>
<g id="n273-3"><circle class="W" cy="440" r="44"/></g>
<g id="n273-4"><circle class="O" cy="560" r="44"/></g>
<g id="n273-5"><circle class="O" cy="680" r="44"/></g>
<g id="n273-6"><circle class="W" cy="800" r="44"/></g>
<g id="n273-7"><circle class="W" cy="920" r="44"/></g>
<g id="n273-8"><circle class="O" cy="1040" r="44"/></g>
<g id="n273-9"><circle class="W" cy="1160" r="44"/></g>
<g id="n273-10"><circle class="G" cy="1280" r="44"/><text class="d" y="1307">1</text></g>
<g id="n273-11"><circle class="P" cy="1400" r="44"/></g>
</g>

<g id="col274" transform="translate(5969 0)">
<g id="n274"><text class="lbl" y="34">274</text><rect class="box" x="-80" y="40" width="160" height="80"/><text class="lbl" y="84">payment,carts,catalogue,</text></g>
<g id="n274-1"><circle class="O" cy="200" r="44"/></g>
<g id="n274-2"><circle class="O" cy="320" r="44"/></g>
<g id="n274-3"><circle class="O" cy="440" r="44"/></g>
<g id="n274-4"><circle class="O" cy="560" r="44"/></g>
<g id="n274-5"><circle class="O" cy="680" r="44"/></g>
<g id="n274-6"><circle class="O" cy="800" r="44"/></g>
<g id="n274-7"><circle class="O" cy="920" r="44"/></g>
<g id="n274-8"><circle class="O" cy="1040" r="44"/></g>
<g id="n274-9"><circle class="O" cy="1160" r="44"/></g>
<g id="n274-10"><circle class="O" cy="1280" r="44"/></g>
<g id="n274-11"><circle class="O" cy="1400" r="44"/></g>
</g>

<g id="col275" transform="translate(6193 0)">
<g id="n275"><text class="lbl" y="34">275</text><rect class="box" x="-80" y="40" width="160" height="80"/><text class="lbl" y="84">orders,catalogue,</text></g>
<g id="n275-1"><circle class="O" cy="200" r="44"/></g>
<g id="n275-2"><circle class="O" cy="320" r="44"/></g>
<g id="n275-3"><circle class="R" cy="440" r="44"/><text class="d" y="467">4</text></g>
<g id="n275-4"><circle class="O" cy="560" r="44"/></g>
<g id="n275-5"><circle class="O" cy="680" r="44"/></g>
<g id="n275-6"><circle class="R" cy="800" r="44"/><text class="d" y="827">5</text></g>
<g id="n275-7"><circle class="R" cy="920" r="44"/><text class="d" y="947">3</text></g>
<g id="n275-8"><circle class="O" cy="1040" r="44"/></g>
<g id="n275-9"><circle class="R" cy="1160" r="44"/><text class="d" y="1187">2</text></g>
<g id="n275-10"><circle class="R" cy="1280" r="44"/><text class="d" y="1307">1</text></g>
<g id="n275-11"><circle class="O" cy="1400" r="44"/></g>
</g>

<g id="col276" transform="translate(6417 0)">
<g id="n276"><text class="lbl" y="34">276</text><rect class="box" x="-80" y="40" width="160" height="80"/><text class="lbl" y="84">payment,carts,user,</text></g>
<g id="n276-1"><circle class="O" cy="200" r="44"/></g>
<g id="n276-2"><circle class="O" cy="320" r="44"/></g>
<g id="n276-3"><circle class="O" cy="440" r="44"/></g>
<g id="n276-4"><circle class="O" cy="560" r="44"/></g>
<g id="n276-5"><circle class="O" cy="680" r="44"/></g>
<g id="n276-6"><circle class="O" cy="800" r="44"/></g>
<g id="n276-7"><circle class="O" cy="920" r="44"/></g>
<g id="n276-8"><circle class="O" cy="1040" r="44"/></g>
<g id="n276-9"><circle class="O" cy="1160" r="44"/></g>
<g id="n276-10"><circle class="O" cy="1280" r="44"/></g>
<g id="n276-11"><circle class="O" cy="1400" r="44"/></g>
</g>

<g id="col277" transform="translate(6641 0)">
<g id="n277"><text class="lbl" y="34">277</text><rect class="box" x="-80" y="40" width="160" height="80"/><text class="lbl" y="84">user,catalogue,</text></g>
<g id="n277-1"><circle class="P" cy="200" r="44"/></g>
<g id="n277-2"><circle class="P" cy="320" r="44"/></g>
<g id="n277-3"><circle class="P" cy="440" r="44"/></g>
<g id="n277-4"><circle class="P" cy="560" r="44"/></g>
<g id="n277-5"><circle class="P" cy="680" r="44"/></g>
<g id="n277-6"><circle class="P" cy="800" r="44"/></g>
<g id="n277-7"><circle class="P" cy="920" r="44"/></g>
<g id="n277-8"><circle class="P" cy="1040" r="44"/></g>
<g id="n277-9"><circle class="P" cy="1160" r="44"/></g>
<g id="n277-10"><circle class="P" cy="1280" r="44"/></g>
<g id="n277-11"><circle class="P" cy="1400" r="44"/></g>
</g>

<g id="col278" transform="translate(6865 0)">
<g id="n278"><text class="lbl" y="34">278</text><rect class="box" x="-80" y="40" width="160" height="80"/><text class="lbl" y="84">payment,carts,orders,</text></g>
<g id="n278-1"><circle class="O" cy="200" r="44"/></g>
<g id="n278-2"><circle class="O" cy="320" r="44"/></g>
<g id="n278-3"><circle class="O" cy="440" r="44"/></g>
<g id="n278-4"><circle class="O" cy="560" r="44"/></g>
<g id="n278-5"><circle class="O" cy="680" r="44"/></g>
<g id="n278-6"><circle class="O" cy="800" r="44"/></g>
<g id="n278-7"><circle class="O" cy="920" r="44"/></g>
<g id="n278-8"><circle class="O" cy="1040" r="44"/></g>
<g id="n278-9"><circle class="O" cy="1160" r="44"/></g>
<g id="n278-10"><circle class="O" cy="1280" r="44"/></g>
<g id="n278-11"><circle class="O" cy="1400" r="44"/></g>
</g>
</g>
</svg>
